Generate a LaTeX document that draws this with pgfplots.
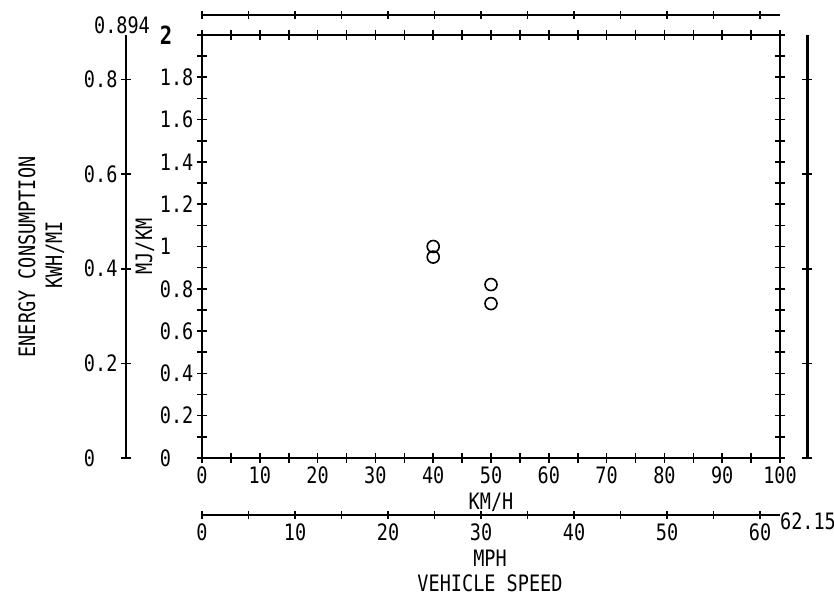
\documentclass[border=0pt]{standalone}
\usepackage{fontspec}
\setmainfont{DejaVu Sans Mono}[FakeStretch=0.82]
\usepackage{pgfplots}
\pgfplotsset{compat=1.18}
\newcommand{\lf}{\fontsize{11.3}{13}\selectfont}
\pgfplotsset{
  plotter/.style={
    scale only axis,
    tick align=center,
    major tick length=5pt, minor tick length=5pt,
    every tick/.style={black, line width=0.8pt},
    every minor tick/.style={black, line width=0.8pt},
    every major tick/.style={black, line width=0.8pt},
    axis line style={-, line width=1pt},
    tick label style={font=\lf},
    label style={font=\lf},
    /pgf/number format/assume math mode=true,
    /pgf/number format/fixed,
    /pgf/number format/precision=1,
  }
}
\begin{document}
\begin{tikzpicture}
\useasboundingbox (0,0) rectangle (417pt,298.5pt);
% main axis
\begin{axis}[plotter, at={(101pt,69.5pt)}, anchor=south west,
  width=289pt, height=211.5pt,
  xmin=0, xmax=100, ymin=0, ymax=2,
  tick pos=both, xticklabel pos=lower, yticklabel pos=left,
  xtick={0,10,20,30,40,50,60,70,80,90,100},
  minor xtick={5,15,25,35,45,55,65,75,85,95},
  ytick={0,0.2,0.4,0.6,0.8,1,1.2,1.4,1.6,1.8},
  minor ytick={0.1,0.3,0.5,0.7,0.9,1.1,1.3,1.5,1.7,1.9},
  yticklabel style={anchor=east, text width=15pt, align=left},
  xticklabel style={yshift=1.5pt},
  extra y ticks={2},
  extra y tick style={yticklabel style={font=\bfseries\fontsize{12.5}{14}\selectfont}},
  ylabel={MJ/KM},
  y label style={at={(axis description cs:-0.0986,0.5)}, anchor=center},
  xlabel={KM/H},
  x label style={at={(axis description cs:0.5,-0.104)}, anchor=center},
]
\addplot[only marks, mark=o, mark size=3pt, line width=0.8pt]
  coordinates {(40,1.00) (40,0.95) (50,0.82) (50,0.73)};
\end{axis}
% left KWH/MI axis
\begin{axis}[plotter, at={(63pt,69.5pt)}, anchor=south west,
  width=1pt, height=211.5pt,
  xmin=0, xmax=1, ymin=0, ymax=0.894,
  hide x axis, axis y line*=left,
  ytick={0,0.2,0.4,0.6,0.8},
  yticklabel style={anchor=east, text width=15pt, align=left},
]
\end{axis}
% right KWH/MI axis
\begin{axis}[plotter, at={(403.5pt,69.5pt)}, anchor=south west,
  width=1pt, height=211.5pt,
  xmin=0, xmax=1, ymin=0, ymax=0.894,
  hide x axis, axis y line*=left,
  axis line style={-, line width=1.5pt},
  ytick={0,0.2,0.4,0.6,0.8}, yticklabels={},
]
\end{axis}
% top MPH axis
\begin{axis}[plotter, at={(101pt,291pt)}, anchor=south west,
  width=289pt, height=1pt,
  xmin=0, xmax=62.15, ymin=0, ymax=1,
  hide y axis, axis x line*=bottom,
  major tick length=4pt,
  xtick={0,5,10,15,20,25,30,35,40,45,50,55,60}, xticklabels={},
]
\end{axis}
% bottom MPH axis
\begin{axis}[plotter, at={(101pt,41pt)}, anchor=south west,
  width=289pt, height=1pt,
  xmin=0, xmax=62.15, ymin=0, ymax=1,
  hide y axis, axis x line*=bottom,
  major tick length=4pt, minor tick length=4pt,
  xtick={0,10,20,30,40,50,60},
  minor xtick={5,15,25,35,45,55},
  xticklabel style={yshift=1pt},
]
\end{axis}
\node[font=\lf] at (61pt,286pt) {0.894};
\node[font=\lf, rotate=90] at (13.5pt,170pt) {ENERGY CONSUMPTION};
\node[font=\lf, rotate=90] at (27.5pt,171pt) {KWH/MI};
\node[font=\lf] at (245pt,19.5pt) {MPH};
\node[font=\lf] at (245pt,7pt) {VEHICLE SPEED};
\node[font=\lf] at (404pt,38pt) {62.15};
\end{tikzpicture}
\end{document}
